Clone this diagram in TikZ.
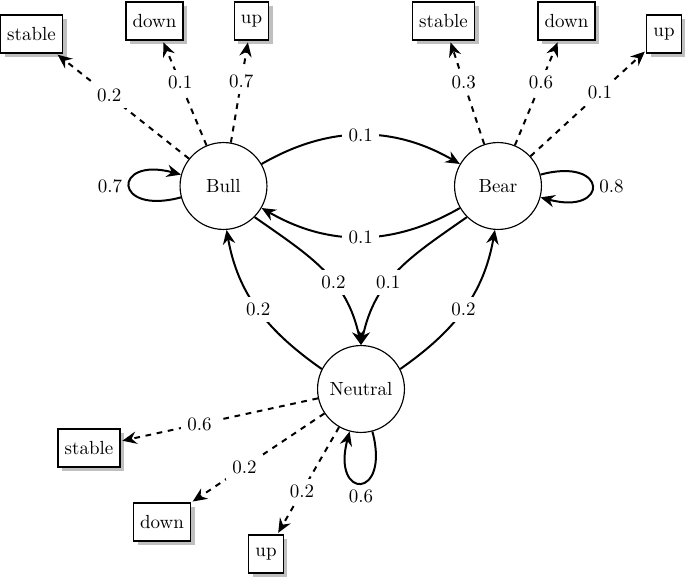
\documentclass[tikz,border=0pt]{standalone}
\usetikzlibrary{arrows.meta,shadows}
\begin{document}
\begin{tikzpicture}[x=0.527pt,y=0.527pt,
  every loop/.style={},
  state/.style={circle,draw,line width=0.6pt,minimum size=45.8pt,inner sep=0pt,fill=white},
  obs/.style={rectangle,draw,line width=0.6pt,fill=white,minimum height=20pt,inner xsep=3.5pt,drop shadow},
  trans/.style={line width=1.05pt,-{Stealth[length=7.5pt,width=6.5pt,inset=2.5pt]}},
  emit/.style={trans,dashed,shorten >=1pt},
  lbl/.style={fill=white}
]
\useasboundingbox (0,0) rectangle (685,579);

% states
\node[state] (bull) at (223.5,393) {Bull};
\node[state] (bear) at (498,393) {Bear};
\node[state] (neu) at (361,190) {Neutral};

% observations
\node[obs] (bus) at (31.5,545) {stable};
\node[obs] (bud) at (154.5,558) {down};
\node[obs] (buu) at (251.5,558) {up};
\node[obs] (bes) at (443.5,558) {stable};
\node[obs] (bed) at (566.5,558) {down};
\node[obs] (beu) at (664,545) {up};
\node[obs] (nes) at (89,131) {stable};
\node[obs] (ned) at (162,57) {down};
\node[obs] (nuo) at (266,25) {up};

% emissions
\draw[emit] (bull) -- node[lbl,pos=0.6]{0.2} (bus);
\draw[emit] (bull) -- node[lbl,pos=0.6]{0.1} (bud);
\draw[emit] (bull) -- node[lbl,pos=0.6]{0.7} (buu);
\draw[emit] (bear) -- node[lbl,pos=0.6]{0.3} (bes);
\draw[emit] (bear) -- node[lbl,pos=0.6]{0.6} (bed);
\draw[emit] (bear) -- node[lbl,pos=0.6]{0.1} (beu);
\draw[emit] (neu) -- node[lbl,pos=0.6]{0.6} (nes);
\draw[emit] (neu) -- node[lbl,pos=0.6]{0.2} (ned);
\draw[emit] (neu) -- node[lbl,pos=0.6]{0.2} (nuo);

% transitions
\draw[trans] (bull) to[bend left=30] node[lbl]{0.1} (bear);
\draw[trans] (bear) to[bend left=30] node[lbl]{0.1} (bull);
\draw[trans] (bull.-45) to[out=-35,in=102,looseness=1.05] node[lbl,pos=0.6]{0.2} (neu.north);
\draw[trans] (bear.-135) to[out=215,in=78,looseness=1.05] node[lbl,pos=0.6]{0.1} (neu.north);
\draw[trans] (neu.153) to[out=145,in=-80] node[lbl]{0.2} (bull.-86);
\draw[trans] (neu.27) to[out=35,in=-100] node[lbl]{0.2} (bear.-94);

% self loops
\path (bull) edge[trans,loop left] node[left]{0.7} ();
\path (bear) edge[trans,loop right] node[right]{0.8} ();
\path (neu) edge[trans,loop below] node[below]{0.6} ();
\end{tikzpicture}
\end{document}
